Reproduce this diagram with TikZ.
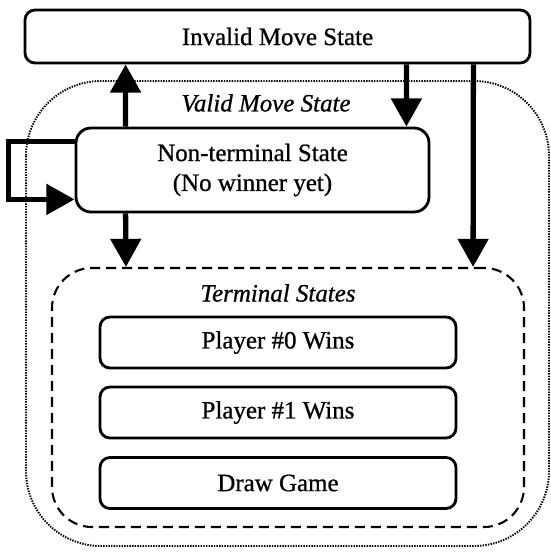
\documentclass[tikz,border=0pt]{standalone}
\usepackage{fontspec}
\setmainfont{Liberation Serif}[FakeBold=0.8]
\usetikzlibrary{arrows.meta,calc}

\begin{document}
\begin{tikzpicture}
    \tikzstyle{box}=[draw=black,line width=1.6pt,rounded corners=0.2cm,fill=white,align=center]
    \tikzstyle{group}=[rounded corners=1.5cm,line width=1.1pt,dash pattern=on 0.8pt off 0.7pt]
    \tikzstyle{arr}=[line width=3pt,line join=miter,-{Triangle[length=16pt,width=17pt]}]
    \tikzset{every node/.style={font=\fontsize{14.2}{17}\selectfont}}

    \useasboundingbox (0,0) rectangle (11,-11.06);

    % outer (valid moves) and terminal regions
    \draw[group] (0.52,-1.62) rectangle (10.98,-10.92);
    \node[inner sep=0pt, minimum width=9.44cm, minimum height=5.18cm, draw, rounded corners=0.8cm,
          line width=1.2pt, dash pattern=on 5.7pt off 3.4pt] at (5.76,-7.95) (term) {};

    \node[box, minimum width=10.1cm, minimum height=1.06cm] at (5.55,-0.73) (inv) {Invalid Move State};
    \node[box, minimum width=7.06cm, minimum height=1.68cm, rounded corners=0.3cm] at (5.05,-3.4) (nt)
        {Non-terminal State\\(No winner yet)};

    \node at (5.32,-2.06) (valid) {\itshape Valid Move State};
    \node at (5.56,-5.86) (terml) {\itshape Terminal States};

    \node[box, minimum width=7.12cm, minimum height=1.02cm] at (5.56,-6.85) (p0) {Player \#0 Wins};
    \node[box, minimum width=7.12cm, minimum height=1.02cm] at (5.56,-8.25) (p1) {Player \#1 Wins};
    \node[box, minimum width=7.12cm, minimum height=1.02cm] at (5.56,-9.66) (dg) {Draw Game};

    \draw[arr] ($(nt.north west)+(1.02,0)$) -- ($(inv.south west)+(2.04,0)$);
    \draw[arr] ($(inv.south east)+(-2.5,0)$) -- ($(nt.north east)+(-0.48,0)$);
    \draw[arr] ($(inv.south east)+(-1.16,0)$) -- ($(term.north east)+(-1.04,0)$);
    \draw[arr] ($(nt.south west)+(1.02,0)$) -- ($(term.north west)+(1.5,0)$);

    \draw[arr] ($(nt.north west)+(0,-0.3)$) -- ++(-1.32,0) |- ($(nt.south west)+(0,0.28)$);
\end{tikzpicture}
\end{document}
